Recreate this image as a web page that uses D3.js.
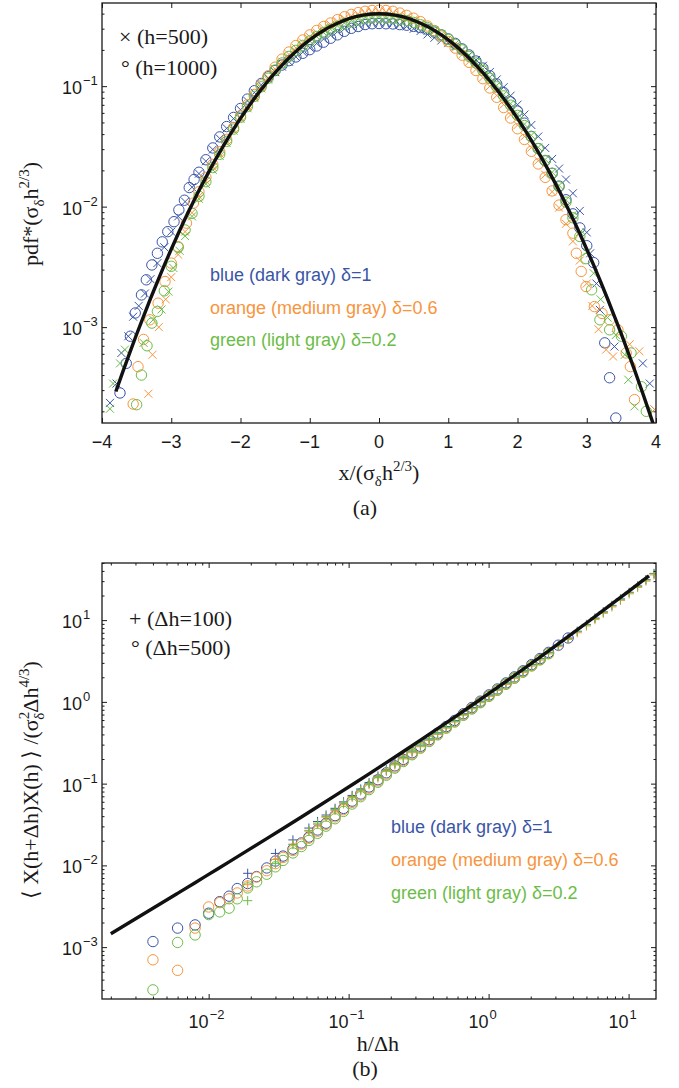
<!DOCTYPE html>
<html>
<head>
<meta charset="utf-8">
<script src="https://cdn.jsdelivr.net/npm/d3@7"></script>
<style>
  body { margin: 0; background: #fff; }
  svg { display: block; }
</style>
</head>
<body>
<svg id="fig" width="679" height="1088"></svg>
<script>
// ---------------- Panel (a): normalised increment pdf ----------------
// Gaussian reference curve (solid black)
const pdfCurveX = [-3.8,-3.7,-3.6,-3.5,-3.4,-3.3,-3.2,-3.1,-3.0,-2.9,-2.8,-2.7,-2.6,-2.5,-2.4,-2.3,-2.2,-2.1,-2.0,-1.9,-1.8,-1.7,-1.6,-1.5,-1.4,-1.3,-1.2,-1.1,-1.0,-0.9,-0.8,-0.7,-0.6,-0.5,-0.4,-0.3,-0.2,-0.1,0,0.1,0.2,0.3,0.4,0.5,0.6,0.7,0.8,0.9,1.0,1.1,1.2,1.3,1.4,1.5,1.6,1.7,1.8,1.9,2.0,2.1,2.2,2.3,2.4,2.5,2.6,2.7,2.8,2.9,3.0,3.1,3.2,3.3,3.4,3.5,3.6,3.7,3.8,3.9,4.0];
const pdfCurveY = [2.92e-4,4.25e-4,6.12e-4,8.73e-4,1.23e-3,1.72e-3,2.38e-3,3.27e-3,4.43e-3,5.95e-3,7.92e-3,0.0104,0.0136,0.0175,0.0224,0.0283,0.0355,0.0440,0.0540,0.0656,0.0790,0.0940,0.1109,0.1295,0.1497,0.1714,0.1942,0.2179,0.2420,0.2661,0.2897,0.3123,0.3332,0.3521,0.3683,0.3814,0.3910,0.3970,0.3989,0.3970,0.3910,0.3814,0.3683,0.3521,0.3332,0.3123,0.2897,0.2661,0.2420,0.2179,0.1942,0.1714,0.1497,0.1295,0.1109,0.0940,0.0790,0.0656,0.0540,0.0440,0.0355,0.0283,0.0224,0.0175,0.0136,0.0104,7.92e-3,5.95e-3,4.43e-3,3.27e-3,2.38e-3,1.72e-3,1.23e-3,8.73e-4,6.12e-4,4.25e-4,2.92e-4,1.99e-4,1.34e-4];

// [x, pdf] samples; circles h=1000, crosses h=500
const pdfBlueCircles = [[-3.74,2.84e-4],[-3.65,5.0e-4],[-3.59,8.4e-4],[-3.52,1.31e-3],[-3.43,1.85e-3],[-3.36,2.47e-3],[-3.28,3.28e-3],[-3.2,4.1e-3],[-3.13,5.1e-3],[-3.05,6.2e-3],[-2.96,7.5e-3],[-2.89,9.4e-3],[-2.81,0.0113],[-2.74,0.0144],[-2.67,0.0168],
  [-2.6,0.0193],[-2.5,0.0245],[-2.4,0.0307],[-2.3,0.0379],[-2.2,0.0462],[-2.1,0.0550],[-2.0,0.0653],[-1.9,0.0781],[-1.8,0.0916],[-1.7,0.1053],[-1.6,0.1198],[-1.5,0.1347],[-1.4,0.1497],[-1.3,0.1628],[-1.2,0.1748],[-1.1,0.1874],[-1.0,0.2009],[-0.9,0.2155],[-0.8,0.2318],[-0.7,0.2498],[-0.6,0.2666],[-0.5,0.2852],[-0.4,0.3020],[-0.3,0.3127],[-0.2,0.3245],[-0.1,0.3295],[0,0.3311],[0.1,0.3295],[0.2,0.3284],[0.3,0.3242],[0.4,0.3204],[0.5,0.3134],[0.6,0.3065],[0.7,0.2967],[0.8,0.2810],[0.9,0.2661],[1.0,0.2468],[1.1,0.2266],[1.2,0.2039],[1.3,0.1817],[1.4,0.1617],[1.5,0.1412],[1.6,0.1220],[1.7,0.1043],[1.8,0.0885],[1.9,0.0741],[2.0,0.0621],[2.1,0.0493],[2.2,0.0383],[2.3,0.0303],[2.4,0.0240],[2.5,0.0189],[2.6,0.0148],[2.7,0.0114],[2.8,0.00871],[2.9,0.00666],[3.0,0.00474],[3.1,0.00343],
  [3.26,7.4e-4],[3.33,3.8e-4],[3.42,1.76e-4]];
const pdfBlueCrosses = [[-3.885,2.35e-4],[-3.79,3.4e-4],[-3.72,6.1e-4],[-3.62,8.4e-4],[-3.55,1.22e-3],[-3.47,1.5e-3],[-3.38,1.9e-3],[-3.3,2.5e-3],[-3.2,3.4e-3],[-3.1,4.6e-3],[-3.0,6.2e-3],[-2.9,8.3e-3],[-2.8,0.0110],[-2.7,0.0145],
  [-2.6,0.0188],[-2.5,0.0238],[-2.4,0.0298],[-2.3,0.0368],[-2.2,0.0447],[-2.1,0.0537],[-2.0,0.0637],[-1.9,0.0754],[-1.8,0.0885],[-1.7,0.1025],[-1.6,0.1164],[-1.5,0.1308],[-1.4,0.1452],[-1.3,0.1594],[-1.2,0.1748],[-1.1,0.1918],[-1.0,0.2081],[-0.9,0.2262],[-0.8,0.2462],[-0.7,0.2655],[-0.6,0.2832],[-0.5,0.2993],[-0.4,0.3131],[-0.3,0.3242],[-0.2,0.3324],[-0.1,0.3375],[0,0.3391],[0.1,0.3375],[0.2,0.3324],[0.3,0.3242],[0.4,0.3131],[0.5,0.2993],[0.6,0.2866],[0.7,0.2686],[0.8,0.2520],[0.9,0.2395],[1.0,0.2275],[1.1,0.2135],[1.2,0.1981],[1.3,0.1817],[1.4,0.1647],[1.5,0.1476],[1.6,0.1309],[1.7,0.1137],[1.8,0.0980],[1.9,0.0833],[2.0,0.0702],[2.1,0.0581],[2.2,0.0476],[2.3,0.0382],[2.4,0.0307],[2.5,0.0249],[2.6,0.0207],[2.7,0.0168],[2.8,0.0129],[2.9,0.00922],[3.0,0.00611],
  [3.05,4.1e-3],[3.14,2.3e-3],[3.19,1.39e-3],[3.4,6.9e-4],[3.81,5.0e-4],[3.91,3.4e-4],[3.98,2.07e-4]];
const pdfOrangeCircles = [[-3.55,2.3e-4],[-3.48,4.7e-4],[-3.40,7.9e-4],[-3.31,1.15e-3],[-3.19,1.58e-3],[-3.09,2.39e-3],[-3.0,3.4e-3],[-2.9,4.65e-3],[-2.78,7.3e-3],[-2.68,0.0107],
  [-2.6,0.0133],[-2.5,0.0175],[-2.4,0.0224],[-2.3,0.0286],[-2.2,0.0362],[-2.1,0.0453],[-2.0,0.0567],[-1.9,0.0702],[-1.8,0.0853],[-1.7,0.1025],[-1.6,0.1220],[-1.5,0.1437],[-1.4,0.1677],[-1.3,0.1920],[-1.2,0.2175],[-1.1,0.2419],[-1.0,0.2662],[-0.9,0.2900],[-0.8,0.3129],[-0.7,0.3342],[-0.6,0.3565],[-0.5,0.3767],[-0.4,0.3941],[-0.3,0.4081],[-0.2,0.4184],[-0.1,0.4248],[0,0.4268],[0.1,0.4248],[0.2,0.4184],[0.3,0.4043],[0.4,0.3867],[0.5,0.3662],[0.6,0.3432],[0.7,0.3154],[0.8,0.2897],[0.9,0.2608],[1.0,0.2347],[1.1,0.2070],[1.2,0.1806],[1.3,0.1577],[1.4,0.1347],[1.5,0.1153],[1.6,0.0965],[1.7,0.0808],[1.8,0.0664],[1.9,0.0544],[2.0,0.0443],[2.1,0.0361],[2.2,0.0288],[2.3,0.0226],[2.4,0.0175],[2.5,0.0135],[2.6,0.0103],[2.7,0.0078],[2.8,0.00602],
  [2.85,4.1e-3],[2.92,2.9e-3],[2.99,2.17e-3],[3.11,1.48e-3],[3.22,1.3e-3],[3.33,1.15e-3],[3.45,9.5e-4],[3.57,6.1e-4],[3.63,4.7e-4],[3.69,2.5e-4]];
const pdfOrangeCrosses = [[-3.33,2.8e-4],[-3.27,5.9e-4],[-3.18,1.0e-3],[-3.08,1.7e-3],[-3.0,2.6e-3],[-2.9,4.0e-3],[-2.8,6.2e-3],[-2.7,8.9e-3],
  [-2.6,0.0122],[-2.5,0.0163],[-2.4,0.0213],[-2.3,0.0275],[-2.2,0.0351],[-2.1,0.0440],[-2.0,0.0551],[-1.9,0.0676],[-1.8,0.0822],[-1.7,0.0987],[-1.6,0.1176],[-1.5,0.1386],[-1.4,0.1602],[-1.3,0.1834],[-1.2,0.2078],[-1.1,0.2310],[-1.0,0.2565],[-0.9,0.2794],[-0.8,0.3042],[-0.7,0.3248],[-0.6,0.3465],[-0.5,0.3662],[-0.4,0.3830],[-0.3,0.3967],[-0.2,0.4066],[-0.1,0.4129],[0,0.4149],[0.1,0.4129],[0.2,0.4066],[0.3,0.3928],[0.4,0.3757],[0.5,0.3556],[0.6,0.3332],[0.7,0.3092],[0.8,0.2839],[0.9,0.2581],[1.0,0.2323],[1.1,0.2070],[1.2,0.1825],[1.3,0.1594],[1.4,0.1377],[1.5,0.1178],[1.6,0.0998],[1.7,0.0837],[1.8,0.0703],[1.9,0.0577],[2.0,0.0475],[2.1,0.0383],[2.2,0.0309],[2.3,0.0241],[2.4,0.0184],[2.5,0.0133],[2.6,0.0098],[2.7,0.0072],[2.8,0.00515],[2.9,0.00357],[3.0,0.00230],
  [3.08,1.5e-3],[3.17,9.6e-4],[3.28,6.5e-4],[3.38,5.7e-4],[3.62,7.2e-4],[3.76,6.3e-4],[3.98,2.07e-4]];
const pdfGreenCircles = [[-3.5,2.27e-4],[-3.43,4.0e-4],[-3.35,7.0e-4],[-3.28,1.08e-3],[-3.2,1.35e-3],[-3.1,2.0e-3],[-3.0,3.2e-3],[-2.9,4.6e-3],[-2.8,6.4e-3],[-2.7,8.8e-3],
  [-2.6,0.0122],[-2.5,0.0161],[-2.4,0.0211],[-2.3,0.0272],[-2.2,0.0348],[-2.1,0.0440],[-2.0,0.0551],[-1.9,0.0676],[-1.8,0.0822],[-1.7,0.0987],[-1.6,0.1164],[-1.5,0.1360],[-1.4,0.1557],[-1.3,0.1765],[-1.2,0.1981],[-1.1,0.2179],[-1.0,0.2372],[-0.9,0.2581],[-0.8,0.2781],[-0.7,0.2967],[-0.6,0.3132],[-0.5,0.3310],[-0.4,0.3425],[-0.3,0.3547],[-0.2,0.3636],[-0.1,0.3692],[0,0.3710],[0.1,0.3692],[0.2,0.3636],[0.3,0.3585],[0.4,0.3499],[0.5,0.3380],[0.6,0.3232],[0.7,0.3061],[0.8,0.2868],[0.9,0.2661],[1.0,0.2444],[1.1,0.2223],[1.2,0.2000],[1.3,0.1765],[1.4,0.1557],[1.5,0.1347],[1.6,0.1164],[1.7,0.0987],[1.8,0.0830],[1.9,0.0695],[2.0,0.0572],[2.1,0.0471],[2.2,0.0380],[2.3,0.0303],[2.4,0.0242],[2.5,0.0189],[2.6,0.0146],[2.7,0.0109],[2.8,0.00808],[2.9,0.00565],
  [2.99,3.7e-3],[3.07,2.04e-3],[3.19,1.15e-3],[3.33,9.5e-4],[3.5,8.4e-4],[3.64,6.1e-4],[3.79,3.2e-4],[3.86,2.0e-4]];
const pdfGreenCrosses = [[-3.885,2.1e-4],[-3.84,3.4e-4],[-3.74,5.0e-4],[-3.67,6.5e-4],[-3.4,7.4e-4],[-3.26,1.15e-3],[-3.14,1.4e-3],[-3.04,1.97e-3],[-2.97,3.1e-3],[-2.88,4.3e-3],[-2.8,5.7e-3],[-2.7,8.3e-3],
  [-2.6,0.0116],[-2.5,0.0154],[-2.4,0.0202],[-2.3,0.0263],[-2.2,0.0337],[-2.1,0.0427],[-2.0,0.0535],[-1.9,0.0656],[-1.8,0.0798],[-1.7,0.0959],[-1.6,0.1131],[-1.5,0.1321],[-1.4,0.1527],[-1.3,0.1731],[-1.2,0.1942],[-1.1,0.2157],[-1.0,0.2372],[-0.9,0.2581],[-0.8,0.2781],[-0.7,0.2967],[-0.6,0.3165],[-0.5,0.3345],[-0.4,0.3499],[-0.3,0.3623],[-0.2,0.3715],[-0.1,0.3772],[0,0.3790],[0.1,0.3772],[0.2,0.3715],[0.3,0.3623],[0.4,0.3536],[0.5,0.3415],[0.6,0.3265],[0.7,0.3092],[0.8,0.2897],[0.9,0.2688],[1.0,0.2468],[1.1,0.2244],[1.2,0.2020],[1.3,0.1800],[1.4,0.1587],[1.5,0.1386],[1.6,0.1187],[1.7,0.1015],[1.8,0.0853],[1.9,0.0715],[2.0,0.0589],[2.1,0.0484],[2.2,0.0391],[2.3,0.0311],[2.4,0.0246],[2.5,0.0193],[2.6,0.0150],[2.7,0.0114],[2.8,0.00855],[2.9,0.00613],[3.0,0.00421],
  [3.1,2.8e-3],[3.2,1.7e-3],[3.3,1.2e-3],[3.42,8.6e-4],[3.55,5.9e-4],[3.6,3.66e-4],[3.69,2.2e-4]];

const pdfXTicks = [-4, -3, -2, -1, 0, 1, 2, 3, 4];
const pdfYTicks = [1e-3, 1e-2, 1e-1];

// ---------------- Panel (b): normalised correlation ----------------
const corrLineU = [0.002,0.004,0.006,0.008,0.010,0.014,0.019,0.026,0.034,0.046,0.060,0.080,0.106,0.140,0.186,0.246,0.326,0.432,0.572,0.76,1.006,1.33,1.76,2.33,3.09,4.08,5.0,6.2,8.2,10,12,14];
const corrLineY = [0.00146,0.002985,0.00455,0.00614,0.00776,0.01104,0.01524,0.02126,0.02830,0.03914,0.05214,0.07127,0.09696,0.13181,0.18078,0.24746,0.34057,0.47034,0.65134,0.90926,1.26896,1.7758,2.49824,3.53084,5.02075,7.1265,9.2263,12.1468,17.4055,22.503,28.5219,34.8635];

// circles: Δh=500
const corrCircleU = [0.004,0.006,0.008,0.010,0.012,0.014,0.016,0.019,0.022,0.026,0.030,0.034,0.040,0.046,0.052,0.060,0.069,0.080,0.092,0.106,0.122,0.140,0.162,0.186,0.214,0.246,0.284,0.326,0.376,0.432,0.498,0.572,0.66,0.76,0.874,1.006,1.156,1.33,1.53,1.76,2.03,2.33,2.68,3.15,3.7];
const corrCircleBlue = [1.17e-3,1.71e-3,1.87e-3,2.6e-3,3.6e-3,4.2e-3,5.2e-3,6.0e-3,7.3e-3,9.3e-3,0.0113,0.0130,0.0158,0.0188,0.0222,0.0271,0.0328,0.0406,0.0498,0.0611,0.0747,0.0910,0.1116,0.1356,0.1650,0.1980,0.2387,0.2860,0.3448,0.4139,0.4989,0.5927,0.7161,0.8547,1.020,1.218,1.439,1.705,2.021,2.398,2.858,3.390,4.034,4.938,6.045];
const corrCircleOrange = [7.0e-4,5.2e-4,1.71e-3,3.1e-3,3.5e-3,3.9e-3,4.6e-3,5.6e-3,7.2e-3,8.6e-3,0.0105,0.0125,0.0152,0.0182,0.0215,0.0262,0.0318,0.0392,0.0481,0.0590,0.0722,0.0880,0.1080,0.1311,0.1596,0.1916,0.2312,0.2772,0.3341,0.4012,0.4837,0.5748,0.6944,0.8290,0.9893,1.181,1.396,1.654,1.960,2.326,2.772,3.284,3.908,null,null];
const corrCircleGreen = [3.0e-4,1.14e-3,1.41e-3,2.5e-3,2.7e-3,3.0e-3,3.9e-3,5.3e-3,6.3e-3,7.8e-3,9.6e-3,0.0115,0.0142,0.0170,0.0202,0.0247,0.0302,0.0372,0.0458,0.0563,0.0692,0.0845,0.1040,0.1267,0.1547,0.1863,0.2255,0.2712,0.3278,0.3949,0.4768,0.5667,0.6854,0.8183,0.9764,1.168,1.387,1.643,1.947,2.311,2.754,3.266,3.886,null,null];

// pluses: Δh=100
const corrPlusU = [0.019,0.030,0.040,0.052,0.060,0.069,0.080,0.092,0.106,0.122,0.140,0.162,0.186,0.214,0.246,0.284,0.326,0.376,0.432,0.498,0.572,0.66,0.76,0.874,1.006,1.156,1.33,1.53,1.76,2.03,2.33,2.68,3.15,3.7,4.3,5.0,5.75,6.6,7.6,8.75,10.1,11.6,13.3,15.2];
const corrPlusBlue = [0.0080,0.0140,0.0205,0.0286,0.0344,0.0413,0.0499,0.0598,0.0717,0.0860,0.1028,0.1240,0.1482,0.1777,0.2104,0.2504,0.2963,0.3528,0.4186,0.4989,0.5927,0.7161,0.8547,1.019,1.218,1.439,1.705,2.021,2.398,2.858,3.390,4.034,4.938,6.045,7.312,8.857,10.59,12.63,15.15,18.17,21.88,26.20,31.31,37.27];
const corrPlusOrange = [0.0058,0.0118,0.0182,0.0262,0.0318,0.0388,0.0470,0.0565,0.0679,0.0815,0.0975,0.1178,0.1410,0.1692,0.2005,0.2387,0.2827,0.3368,0.3998,0.4767,0.5666,0.6853,0.8183,0.9764,1.168,1.379,1.634,1.937,2.298,2.739,3.248,3.866,4.732,5.794,7.007,8.488,10.15,12.11,14.52,17.42,20.97,25.11,30.00,35.71];
const corrPlusGreen = [0.0037,0.0105,0.0180,0.0268,0.0329,0.0397,0.0482,0.0581,0.0698,0.0838,0.1002,0.1209,0.1446,0.1734,0.2054,0.2445,0.2895,0.3448,0.4092,0.4878,0.5797,0.7007,0.8365,0.9979,1.193,1.409,1.688,2.000,2.373,2.829,3.354,3.992,4.886,5.982,7.236,8.765,10.48,12.50,14.99,17.98,21.66,25.93,30.98,36.88];

const corrXTicks = [1e-2, 1e-1, 1, 10];
const corrYTicks = [1e-3, 1e-2, 1e-1, 1, 10];

const seriesLabels = [
  { key: 'blue',   text: 'blue (dark gray) δ=1' },
  { key: 'orange', text: 'orange (medium gray) δ=0.6' },
  { key: 'green',  text: 'green (light gray) δ=0.2' }
];

// ---------------- drawing ----------------
const COLORS = { blue: '#3a55a8', orange: '#f7953d', green: '#6bbd47' };
const INK = '#1a1a1a';
const SANS = '"Liberation Sans", Arial, Helvetica, sans-serif';
const SERIF = '"Liberation Serif", "Times New Roman", "DejaVu Serif", serif';
const TICK_FONT = 18;
const svg = d3.select('#fig');
svg.append('rect').attr('width', 679).attr('height', 1088).attr('fill', '#fff');
const fmtInt = d3.format('d');

function logMinorTicks(domain) {
  const out = [];
  const lo = Math.floor(Math.log10(domain[0])), hi = Math.ceil(Math.log10(domain[1]));
  for (let e = lo; e <= hi; e++)
    for (let m = 1; m < 10; m++) {
      const v = m * Math.pow(10, e);
      if (v >= domain[0] && v <= domain[1]) out.push(+v.toPrecision(3));
    }
  return out;
}

function tickGroup(g, gen, transform, values, size) {
  g.append('g').attr('transform', transform)
    .call(gen.tickValues(values).tickSize(size).tickFormat(''))
    .call(s => s.select('.domain').remove())
    .call(s => s.selectAll('line').attr('stroke', INK).attr('stroke-width', 1));
}

function frame(g, box) {
  g.append('rect')
    .attr('x', box.left).attr('y', box.top)
    .attr('width', box.right - box.left).attr('height', box.bottom - box.top)
    .attr('fill', 'none').attr('stroke', INK).attr('stroke-width', 1.3);
}

function clip(id, box) {
  svg.append('clipPath').attr('id', id).append('rect')
    .attr('x', box.left).attr('y', box.top)
    .attr('width', box.right - box.left).attr('height', box.bottom - box.top);
}

// decade label "10^e" with the "10" ending at (x, y)
function decadeLabel(g, v, x, y, supDy) {
  const e = Math.round(Math.log10(v));
  g.append('text').attr('font-family', SANS).attr('fill', INK)
    .attr('x', x).attr('y', y).attr('text-anchor', 'end').attr('font-size', TICK_FONT).text('10');
  g.append('text').attr('font-family', SANS).attr('fill', INK)
    .attr('x', x + 1).attr('y', y + supDy).attr('font-size', 13).text(fmtInt(e));
}

const crossPath = 'M-4,-4L4,4M-4,4L4,-4';
const plusPath = 'M-4.6,0H4.6M0,-4.6V4.6';

// ===== Panel (a) =====
const boxA = { left: 102, right: 656, top: 3, bottom: 423 };
const xA = d3.scaleLinear().domain([-4, 4]).range([boxA.left, boxA.right]);
const yA = d3.scaleLog().domain([1.6e-4, 0.49]).range([boxA.bottom, boxA.top]);
clip('clipA', boxA);
const gA = svg.append('g');

const dataA = gA.append('g').attr('clip-path', 'url(#clipA)');
const pdfSets = [
  { c: 'blue', circles: pdfBlueCircles, crosses: pdfBlueCrosses },
  { c: 'orange', circles: pdfOrangeCircles, crosses: pdfOrangeCrosses },
  { c: 'green', circles: pdfGreenCircles, crosses: pdfGreenCrosses }
];
pdfSets.forEach(s => {
  dataA.append('g').selectAll('path').data(s.crosses).join('path')
    .attr('d', crossPath)
    .attr('transform', d => `translate(${xA(d[0])},${yA(d[1])})`)
    .attr('fill', 'none').attr('stroke', COLORS[s.c]).attr('stroke-width', 1);
  dataA.append('g').selectAll('circle').data(s.circles).join('circle')
    .attr('cx', d => xA(d[0])).attr('cy', d => yA(d[1])).attr('r', 5.2)
    .attr('fill', 'none').attr('stroke', COLORS[s.c]).attr('stroke-width', 1);
});
const pdfLine = d3.line()
  .x((d, i) => xA(pdfCurveX[i])).y(d => yA(d))
  .curve(d3.curveMonotoneX);
dataA.append('path').attr('d', pdfLine(pdfCurveY))
  .attr('fill', 'none').attr('stroke', '#111').attr('stroke-width', 3.4);

frame(gA, boxA);
tickGroup(gA, d3.axisBottom(xA), `translate(0,${boxA.bottom})`, pdfXTicks, -5);
tickGroup(gA, d3.axisTop(xA), `translate(0,${boxA.top})`, pdfXTicks, -5);
const minorA = logMinorTicks(yA.domain()).filter(v => !pdfYTicks.includes(v));
tickGroup(gA, d3.axisLeft(yA), `translate(${boxA.left},0)`, minorA, -2.5);
tickGroup(gA, d3.axisRight(yA), `translate(${boxA.right},0)`, minorA, -2.5);
tickGroup(gA, d3.axisLeft(yA), `translate(${boxA.left},0)`, pdfYTicks, -5);
tickGroup(gA, d3.axisRight(yA), `translate(${boxA.right},0)`, pdfYTicks, -5);

pdfXTicks.forEach(v => {
  gA.append('text').attr('x', xA(v)).attr('y', 448).attr('text-anchor', 'middle')
    .attr('font-family', SANS).attr('font-size', TICK_FONT).attr('fill', INK).text(fmtInt(v));
});
pdfYTicks.forEach(v => decadeLabel(gA, v, 82, yA(v) + 8, -9));

// axis titles (a)
{
  const t = gA.append('text').attr('x', 379).attr('y', 480).attr('text-anchor', 'middle')
    .attr('font-family', SERIF).attr('font-size', 22).attr('fill', INK);
  t.append('tspan').text('x/(σ');
  t.append('tspan').attr('font-size', 15).attr('dy', 6).text('δ');
  t.append('tspan').attr('dy', -6).text('h');
  t.append('tspan').attr('font-size', 15).attr('dy', -9).text('2/3');
  t.append('tspan').attr('dy', 9).text(')');

  const ty = gA.append('text').attr('transform', 'translate(38,214) rotate(-90)')
    .attr('text-anchor', 'middle').attr('font-family', SERIF).attr('font-size', 22).attr('fill', INK);
  ty.append('tspan').text('pdf*(σ');
  ty.append('tspan').attr('font-size', 15).attr('dy', 6).text('δ');
  ty.append('tspan').attr('dy', -6).text('h');
  ty.append('tspan').attr('font-size', 15).attr('dy', -9).text('2/3');
  ty.append('tspan').attr('dy', 9).text(')');

  gA.append('text').attr('x', 365).attr('y', 515).attr('text-anchor', 'middle')
    .attr('font-family', SERIF).attr('font-size', 22).attr('fill', INK).text('(a)');

  gA.append('text').attr('x', 119).attr('y', 44).attr('font-family', SERIF).attr('font-size', 22)
    .attr('fill', INK).text('× (h=500)');
  gA.append('text').attr('x', 121).attr('y', 75).attr('font-family', SERIF).attr('font-size', 22)
    .attr('fill', INK).text('° (h=1000)');

  seriesLabels.forEach((s, i) => {
    gA.append('text').attr('x', 210).attr('y', 281 + i * 32.5)
      .attr('font-family', SANS).attr('font-size', 18).attr('fill', COLORS[s.key]).text(s.text);
  });
}

// ===== Panel (b) =====
const boxB = { left: 102, right: 656, top: 563, bottom: 999 };
const xB = d3.scaleLog().domain([1.73e-3, 15.7]).range([boxB.left, boxB.right]);
const yB = d3.scaleLog().domain([2.32e-4, 50]).range([boxB.bottom, boxB.top]);
clip('clipB', boxB);
const gB = svg.append('g');
const dataB = gB.append('g').attr('clip-path', 'url(#clipB)');

const corrSets = [
  { c: 'blue', circles: corrCircleBlue, plus: corrPlusBlue },
  { c: 'orange', circles: corrCircleOrange, plus: corrPlusOrange },
  { c: 'green', circles: corrCircleGreen, plus: corrPlusGreen }
];
corrSets.forEach(s => {
  const circ = corrCircleU.map((u, i) => [u, s.circles[i]]).filter(d => d[1] != null);
  const plus = corrPlusU.map((u, i) => [u, s.plus[i]]).filter(d => d[1] != null);
  dataB.append('g').selectAll('circle').data(circ).join('circle')
    .attr('cx', d => xB(d[0])).attr('cy', d => yB(d[1])).attr('r', 5.2)
    .attr('fill', 'none').attr('stroke', COLORS[s.c]).attr('stroke-width', 1);
  dataB.append('g').selectAll('path').data(plus).join('path')
    .attr('d', plusPath)
    .attr('transform', d => `translate(${xB(d[0])},${yB(d[1])})`)
    .attr('fill', 'none').attr('stroke', COLORS[s.c]).attr('stroke-width', 1);
});
const corrLine = d3.line()
  .x((d, i) => xB(corrLineU[i])).y(d => yB(d))
  .curve(d3.curveMonotoneX);
dataB.append('path').attr('d', corrLine(corrLineY))
  .attr('fill', 'none').attr('stroke', '#111').attr('stroke-width', 3.4);

frame(gB, boxB);
const minorBx = logMinorTicks(xB.domain()).filter(v => !corrXTicks.includes(v));
const minorBy = logMinorTicks(yB.domain()).filter(v => !corrYTicks.includes(v));
tickGroup(gB, d3.axisBottom(xB), `translate(0,${boxB.bottom})`, minorBx, -2.5);
tickGroup(gB, d3.axisTop(xB), `translate(0,${boxB.top})`, minorBx, -2.5);
tickGroup(gB, d3.axisBottom(xB), `translate(0,${boxB.bottom})`, corrXTicks, -5);
tickGroup(gB, d3.axisTop(xB), `translate(0,${boxB.top})`, corrXTicks, -5);
tickGroup(gB, d3.axisLeft(yB), `translate(${boxB.left},0)`, minorBy, -2.5);
tickGroup(gB, d3.axisRight(yB), `translate(${boxB.right},0)`, minorBy, -2.5);
tickGroup(gB, d3.axisLeft(yB), `translate(${boxB.left},0)`, corrYTicks, -5);
tickGroup(gB, d3.axisRight(yB), `translate(${boxB.right},0)`, corrYTicks, -5);

corrXTicks.forEach(v => decadeLabel(gB, v, xB(v), 1028, -9));
corrYTicks.forEach(v => decadeLabel(gB, v, 82, yB(v) + 8, -9));

{
  gB.append('text').attr('x', 378).attr('y', 1051).attr('text-anchor', 'middle')
    .attr('font-family', SERIF).attr('font-size', 22).attr('fill', INK).text('h/Δh');
  gB.append('text').attr('x', 365).attr('y', 1076).attr('text-anchor', 'middle')
    .attr('font-family', SERIF).attr('font-size', 22).attr('fill', INK).text('(b)');

  const ty = gB.append('text').attr('transform', 'translate(38,780) rotate(-90)')
    .attr('text-anchor', 'middle').attr('font-family', SERIF).attr('font-size', 22).attr('fill', INK);
  ty.append('tspan').text('⟨ X(h+Δh)X(h) ⟩ /(σ');
  ty.append('tspan').attr('font-size', 15).attr('dy', -9).text('2');
  ty.append('tspan').attr('font-size', 15).attr('dx', -8).attr('dy', 15).text('δ');
  ty.append('tspan').attr('dy', -6).text('Δh');
  ty.append('tspan').attr('font-size', 15).attr('dy', -9).text('4/3');
  ty.append('tspan').attr('dy', 9).text(')');

  gB.append('text').attr('x', 129).attr('y', 626).attr('font-family', SERIF).attr('font-size', 22)
    .attr('fill', INK).text('+ (Δh=100)');
  gB.append('text').attr('x', 131).attr('y', 655).attr('font-family', SERIF).attr('font-size', 22)
    .attr('fill', INK).text('° (Δh=500)');

  seriesLabels.forEach((s, i) => {
    gB.append('text').attr('x', 391).attr('y', 833 + i * 33)
      .attr('font-family', SANS).attr('font-size', 18).attr('fill', COLORS[s.key]).text(s.text);
  });
}
</script>
</body>
</html>
